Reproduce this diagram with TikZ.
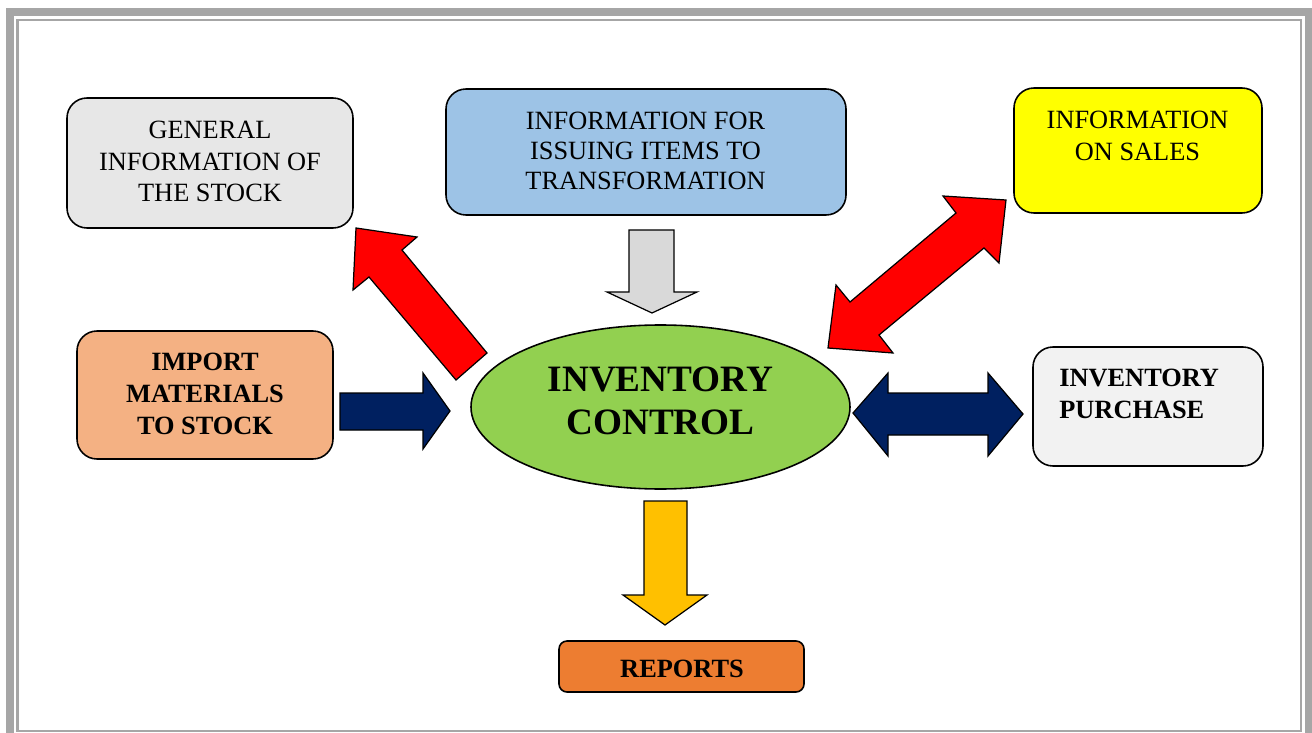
\documentclass[tikz,border=0pt]{standalone}
\usepackage{fontspec}
\setmainfont{Liberation Serif}
\usetikzlibrary{shapes.geometric}
\definecolor{framegray}{HTML}{A6A6A6}
\definecolor{stockgray}{HTML}{E7E7E7}
\definecolor{issueblue}{HTML}{9DC3E6}
\definecolor{salesyellow}{HTML}{FFFF00}
\definecolor{importpeach}{HTML}{F4B183}
\definecolor{purchasegray}{HTML}{F2F2F2}
\definecolor{reportorange}{HTML}{ED7D31}
\definecolor{controlgreen}{HTML}{92D050}
\definecolor{navy}{HTML}{002060}
\definecolor{arrowred}{HTML}{FF0000}
\definecolor{arrowgray}{HTML}{D9D9D9}
\definecolor{arrowgold}{HTML}{FFC000}
\begin{document}
\begin{tikzpicture}[x=0.02cm,y=-0.02cm,
  box/.style={draw=black, line width=0.9pt, rounded corners=0.4cm, inner sep=0pt},
  txt/.style={font=\fontsize{15}{17.3}\selectfont, align=center, inner sep=0pt},
  btxt/.style={font=\fontsize{15}{18}\selectfont\bfseries, align=center, inner sep=0pt},
  blockarrow/.style={draw=black, line width=0.7pt, line join=miter}
]
\clip (0,0) rectangle (1312,733);
\fill[white] (0,0) rectangle (1312,733);

% page frame: heavy outer rule and thin inner rule
\draw[framegray, line width=8*0.02cm] (10,12) rectangle (1309,760);
\draw[framegray, line width=2.5*0.02cm] (17.5,20) rectangle (1301,731);

% boxes
\node[box, fill=stockgray, minimum width=286*0.02cm, minimum height=130*0.02cm] (general) at (210,163) {};
\node[txt, font=\fontsize{15}{17.7}\selectfont] (generaltext) at (210,161.5) {GENERAL\\INFORMATION OF\\THE STOCK};

\node[box, fill=issueblue, minimum width=400*0.02cm, minimum height=126*0.02cm] (issue) at (646,152) {};
\node[txt] (issuetext) at (645.5,151) {INFORMATION FOR\\ISSUING ITEMS TO\\TRANSFORMATION};

\node[box, fill=salesyellow, minimum width=248*0.02cm, minimum height=125*0.02cm] (sales) at (1138,150.5) {};
\node[txt, font=\fontsize{15}{18.1}\selectfont] (salestext) at (1137.5,136) {INFORMATION\\ON SALES};

\node[box, fill=importpeach, minimum width=256*0.02cm, minimum height=128*0.02cm] (import) at (205,395) {};
\node[btxt, font=\fontsize{15}{18.2}\selectfont\bfseries] (importtext) at (205,393.5) {IMPORT\\MATERIALS\\TO STOCK};

\node[box, fill=purchasegray, minimum width=230*0.02cm, minimum height=119*0.02cm] (purchase) at (1148,406.5) {};
\node[btxt, align=left, anchor=west] (purchasetext) at (1059,394) {INVENTORY\\PURCHASE};

\node[box, fill=reportorange, rounded corners=0.16cm, minimum width=245*0.02cm, minimum height=51*0.02cm] (reports) at (681.5,666.5) {};
\node[btxt] (reportstext) at (682,669) {REPORTS};

\node[ellipse, draw=black, line width=0.9pt, fill=controlgreen, minimum width=379*0.02cm, minimum height=164*0.02cm] (control) at (660.5,407) {};
\node[btxt, font=\fontsize{21.2}{24.4}\selectfont\bfseries] (controltext) at (660.5,401) {INVENTORY\\CONTROL};

% block arrows
\filldraw[blockarrow, fill=arrowgray]
  (629,230) -- (674,230) -- (674,292) -- (697,292) -- (652,313) -- (607,292) -- (629,292) -- cycle;

\filldraw[blockarrow, fill=arrowred]
  (487,353) -- (402,250) -- (417,237) -- (356,228) -- (353,290) -- (369,277) -- (456,380) -- cycle;

\filldraw[blockarrow, fill=navy]
  (340,393) -- (423,393) -- (423,373) -- (450,411) -- (423,449) -- (423,430) -- (340,430) -- cycle;

\filldraw[blockarrow, fill=navy]
  (853,413) -- (888,373) -- (888,393) -- (988,393) -- (988,373) -- (1023,414)
  -- (988,456) -- (988,435) -- (888,435) -- (888,456) -- cycle;

\filldraw[blockarrow, fill=arrowred]
  (828,348) -- (836,285) -- (850,302) -- (956,213) -- (943,196) -- (1006,200)
  -- (999,263) -- (984,248) -- (879,335) -- (893,353) -- cycle;

\filldraw[blockarrow, fill=arrowgold]
  (644,501) -- (687,501) -- (687,595) -- (707,595) -- (665,625) -- (623,595) -- (644,595) -- cycle;
\end{tikzpicture}
\end{document}
